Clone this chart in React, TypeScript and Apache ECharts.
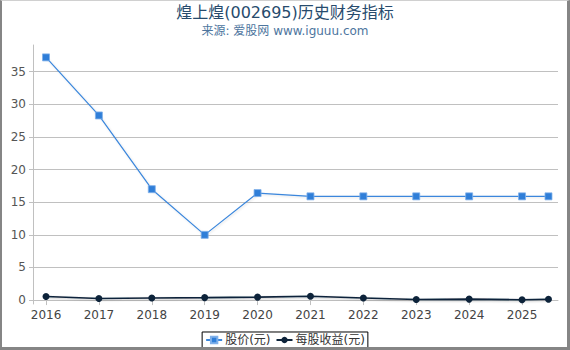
import React, { useEffect, useRef } from "react";
import * as echarts from "echarts";

const TITLE = "煌上煌(002695)历史财务指标";
const SUBTITLE = "来源: 爱股网 www.iguuu.com";
const yearPositions = [2016, 2017, 2018, 2019, 2020, 2021, 2022, 2023, 2024, 2025, 2025.5];
const yearTicks = [2016, 2017, 2018, 2019, 2020, 2021, 2022, 2023, 2024, 2025];
const priceValues = [37.2, 28.3, 17.0, 10.0, 16.4, 15.9, 15.9, 15.9, 15.9, 15.9, 15.9];
const epsValues = [0.55, 0.25, 0.33, 0.38, 0.45, 0.58, 0.32, 0.08, 0.15, 0.06, 0.12];
const yTicks = [0, 5, 10, 15, 20, 25, 30, 35];
const seriesNames = ["股价(元)", "每股收益(元)"];

const FONT = "'DejaVu Sans', 'Noto Sans CJK SC', sans-serif";

export default function App() {
  const ref = useRef<HTMLDivElement>(null);
  useEffect(() => {
    document.body.style.margin = "0";
    const chart = echarts.init(ref.current!, undefined, { renderer: "svg" });
    chart.setOption({
      animation: false,
      backgroundColor: "#ffffff",
      textStyle: { fontFamily: FONT },
      title: {
        text: TITLE,
        subtext: SUBTITLE,
        left: "center",
        top: 4,
        itemGap: 5,
        padding: 0,
        textStyle: { fontSize: 16, fontWeight: "normal", color: "#274b6d", fontFamily: FONT },
        subtextStyle: { fontSize: 12, color: "#4d759e", fontFamily: FONT },
      },
      legend: {
        bottom: 1,
        left: "center",
        orient: "horizontal",
        borderColor: "#000000",
        borderWidth: 1,
        borderRadius: 0,
        padding: [2, 3, 3, 3],
        itemGap: 5,
        itemWidth: 16,
        itemHeight: 8,
        textStyle: { fontSize: 12, color: "#333333", fontFamily: FONT, padding: [0, 0, 0, -2] },
        data: seriesNames,
      },
      grid: { left: 33, right: 12, top: 45, bottom: 46, containLabel: false },
      xAxis: {
        type: "value",
        min: 2015.754,
        max: 2025.68,
        axisLine: { show: true, lineStyle: { color: "#c0c0c0", width: 1 } },
        axisTick: { show: true, length: 5, lineStyle: { color: "#c0c0c0" }, customValues: yearTicks },
        axisLabel: {
          customValues: yearTicks,
          formatter: (v: number) => String(Math.round(v)),
          fontSize: 12,
          color: "#444444",
          margin: 5,
          fontFamily: FONT,
        },
        splitLine: { show: false },
      },
      yAxis: {
        type: "value",
        min: -0.6,
        max: 39.1,
        axisLine: { show: true, lineStyle: { color: "#c0c0c0", width: 1 } },
        axisTick: { show: true, length: 4, inside: false, lineStyle: { color: "#c0c0c0" }, customValues: yTicks },
        axisLabel: {
          customValues: yTicks,
          fontSize: 12,
          color: "#555555",
          margin: 7,
          fontFamily: FONT,
        },
        splitLine: { show: true, lineStyle: { color: "#c0c0c0", width: 1 } },
      },
      series: [
        {
          name: seriesNames[0],
          type: "line",
          data: yearPositions.map((x, i) => [x, priceValues[i]]),
          symbol: "rect",
          symbolSize: 7,
          color: "#2f7ed8",
          itemStyle: { color: "#2f7ed8", borderColor: "#7fb0ea", borderWidth: 0.8 },
          lineStyle: {
            color: "#3a86dc",
            width: 1.2,
            shadowColor: "rgba(0,0,0,0.12)",
            shadowBlur: 2,
            shadowOffsetX: 1,
            shadowOffsetY: 1,
          },
          z: 3,
        },
        {
          name: seriesNames[1],
          type: "line",
          data: yearPositions.map((x, i) => [x, epsValues[i]]),
          symbol: "circle",
          symbolSize: 7,
          color: "#0d233a",
          itemStyle: { color: "#0d233a" },
          lineStyle: {
            color: "#0d233a",
            width: 1.6,
            shadowColor: "rgba(0,0,0,0.25)",
            shadowBlur: 2,
            shadowOffsetX: 1,
            shadowOffsetY: 1,
          },
          z: 4,
        },
      ],
    });
    return () => chart.dispose();
  }, []);
  return (
    <div style={{ position: "absolute", left: 0, top: 0, width: 570, height: 350 }}>
      <div ref={ref} style={{ width: 570, height: 350 }} />
      <div
        style={{
          position: "absolute",
          left: 0,
          top: 0,
          width: 570,
          height: 350,
          boxSizing: "border-box",
          borderTop: "1px solid #d0d0d0",
          borderLeft: "2px solid #858585",
          borderRight: "3px solid #858585",
          borderBottom: "3px solid #858585",
          pointerEvents: "none",
        }}
      />
    </div>
  );
}
